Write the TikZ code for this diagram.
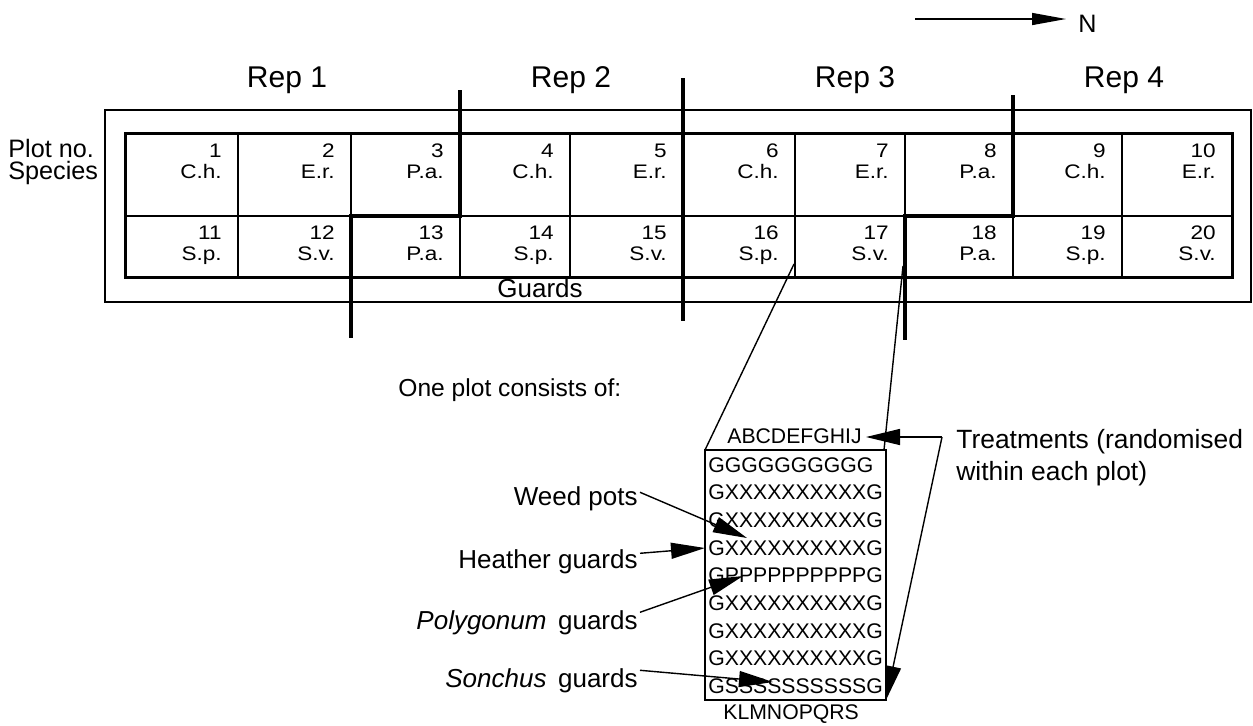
\documentclass[tikz,border=0pt]{standalone}
\usepackage{fontspec}
\setmainfont{Liberation Sans}
\newfontfamily\widesans{Liberation Sans}[FakeStretch=1.15]
\usetikzlibrary{arrows.meta}

\newcommand{\fsz}[1]{\fontsize{#1}{1.2\dimexpr#1\relax}\selectfont}

\tikzset{
  framebox/.style={draw, line width=0.7pt},
  cellbox/.style={draw, line width=1pt, inner sep=0pt, outer sep=0pt},
  gridborder/.style={draw, line width=1.5pt},
  repline/.style={line width=2pt, line join=miter},
  replabel/.style={font=\fsz{15pt}, anchor=base, inner sep=0pt},
  sidelabel/.style={font=\fsz{12.6pt}, anchor=base west, inner sep=0pt},
  celltxt/.style={font=\widesans\fsz{9.8pt}, anchor=base east, inner sep=0pt},
  potrow/.style={font=\fsz{10.6pt}, anchor=base west, inner sep=0pt},
  keylabel/.style={font=\fsz{13pt}, anchor=base east, inner sep=1pt},
  leader/.style={line width=0.7pt},
  arr/.style={line width=0.7pt, -{Triangle[length=17pt, width=8pt]}},
}

\begin{document}
\begin{tikzpicture}[x=0.5pt, y=-0.5pt]
\useasboundingbox (0,0) rectangle (1253,725);

% north arrow
\coordinate (nstart) at (915,19);
\node[font=\fsz{12.6pt}, anchor=west, inner sep=0pt] (north) at (1078,24) {N};
\draw[line width=0.7pt, -{Triangle[length=17pt, width=6pt]}] (nstart) -- (1066,19);

% replicate labels
\node[replabel] (rep1) at (287,87) {Rep 1};
\node[replabel] (rep2) at (571,87) {Rep 2};
\node[replabel] (rep3) at (855,87) {Rep 3};
\node[replabel] (rep4) at (1124,87) {Rep 4};

% guard strip round the plots
\draw[framebox] (105,110) rectangle (1251,302);
\node[font=\fsz{13pt}, anchor=base, inner sep=0pt] (guards) at (540,297) {Guards};

% row headings
\node[sidelabel] (plotno) at (8,157) {Plot no.};
\node[sidelabel] (species) at (8,179) {Species};

% the twenty plots: upper row 1-10, lower row 11-20
\foreach \xl/\xr/\up/\low [count=\i] in {
    125/238/C.h./S.p., 238/351/E.r./S.v., 351/460/P.a./P.a., 460/570/C.h./S.p.,
    570/683/E.r./S.v., 683/795/C.h./S.p., 795/905/E.r./S.v., 905/1013/P.a./P.a.,
    1013/1122/C.h./S.p., 1122/1232/E.r./S.v.} {
  \pgfmathsetmacro\w{(\xr-\xl)/2}
  \pgfmathtruncatemacro\j{\i+10}
  \node[cellbox, minimum width=\w pt, minimum height=41.5pt, anchor=north west] (p\i) at (\xl,133) {};
  \node[cellbox, minimum width=\w pt, minimum height=30.5pt, anchor=north west] (p\j) at (\xl,216) {};
  \node[celltxt] at (\xr-16,157) {\i};
  \node[celltxt] at (\xr-16,178) {\up};
  \node[celltxt] at (\xr-16,239) {\j};
  \node[celltxt] at (\xr-16,260) {\low};
}
\draw[gridborder] (p1.north west) rectangle (p20.south east);

% boundaries between replicates
\draw[repline] (p3.south east |- 0,90) -- (p3.south east) -- (p13.north west) -- (p13.north west |- 0,338);
\draw[repline] (p6.north west |- 0,78) -- (p6.north west |- 0,321);
\draw[repline] (p8.south east |- 0,95) -- (p8.south east) -- (p18.north west) -- (p18.north west |- 0,340);

% detail of one plot
\node[font=\fsz{12.3pt}, anchor=base west, inner sep=0pt] (consists) at (398,396) {One plot consists of:};
\node[draw, line width=0.8pt, inner sep=0pt, outer sep=0pt, anchor=north west,
      minimum width=90.5pt, minimum height=125pt] (plotbox) at (705,450) {};
\coordinate (zoomleft) at (794,264);
\coordinate (zoomright) at (903,266);
\draw[leader] (zoomleft) -- (plotbox.north west);
\draw[leader] (zoomright) -- (884,450);

\node[potrow] (abc) at (727,443) {ABCDEFGHIJ};
\node[potrow] (klm) at (723,719) {KLMNOPQRS};
\foreach \r [count=\k from 0] in {GGGGGGGGGG,GXXXXXXXXXXG,GXXXXXXXXXXG,GXXXXXXXXXXG,
    GPPPPPPPPPPG,GXXXXXXXXXXG,GXXXXXXXXXXG,GXXXXXXXXXXG,GSSSSSSSSSSG} {
  \node[potrow] (row\k) at (708,472+\k*27.7) {\r};
}

% key on the left
\node[keylabel] (weed) at (640,505) {Weed pots};
\node[keylabel] (heather) at (640,568) {Heather guards};
\node[keylabel] (polyg) at (640,629) {\textit{Polygonum}\, guards};
\node[keylabel] (sonch) at (640,687) {\textit{Sonchus}\, guards};

\coordinate (weedtip) at (747,538);
\coordinate (heathertip) at (705,548);
\coordinate (polygtip) at (743,576);
\coordinate (sonchtip) at (773,682);
\draw[arr] (weed.east) ++(0,-6) -- (weedtip);
\draw[arr] (heather.east) ++(0,-8) -- (heathertip);
\draw[arr] (polyg.east) ++(0,-10) -- (polygtip);
\draw[arr] (sonch.east) ++(0,-10) -- (sonchtip);

% treatments
\node[font=\fsz{13.2pt}, anchor=base west, inner sep=0pt] (treat) at (956,448)
  {Treatments (randomised};
\node[font=\fsz{13.2pt}, anchor=base west, inner sep=0pt] (treat2) at (956,480)
  {within each plot)};
\coordinate (tcorner) at (942,437);
\draw[arr] (tcorner) -- (866,437);
\draw[arr] (tcorner) -- (plotbox.south east);
\end{tikzpicture}
\end{document}
